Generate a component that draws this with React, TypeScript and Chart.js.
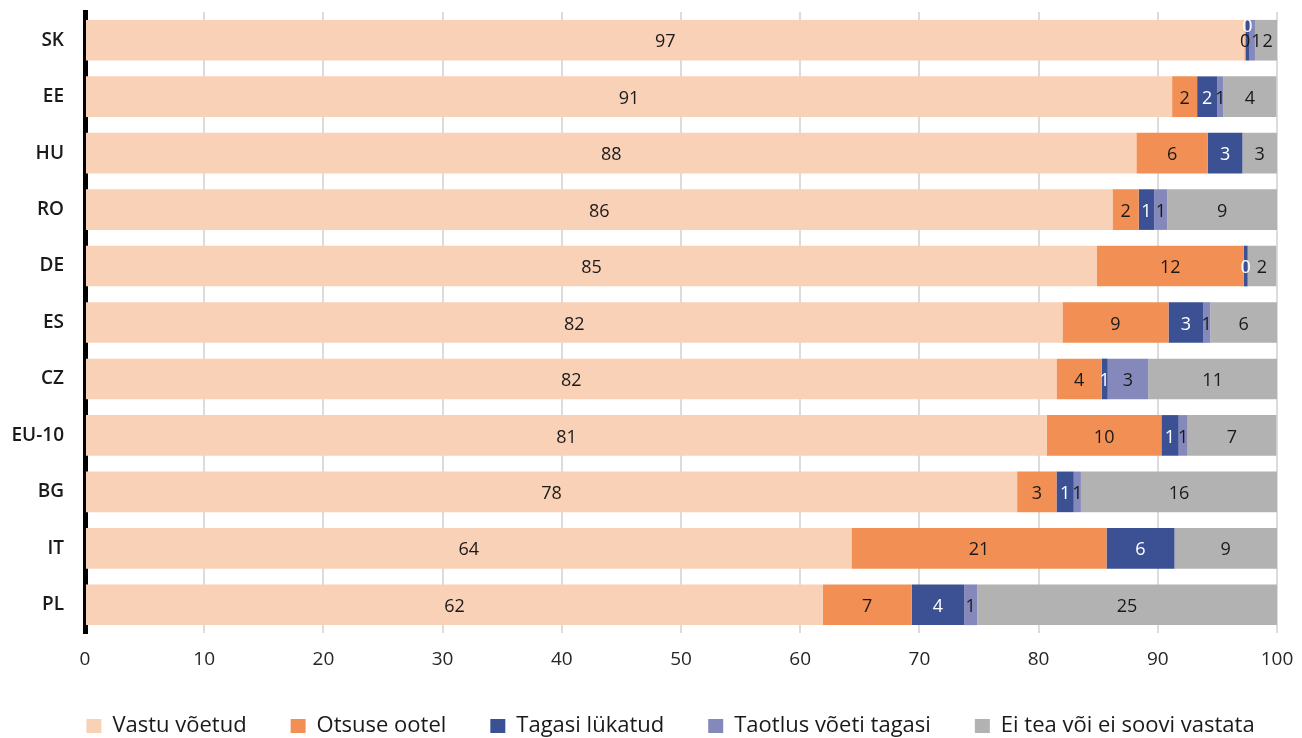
import React, { useEffect, useRef } from "react";
import { Chart, registerables } from "chart.js";

Chart.register(...registerables);

const categories = ["SK", "EE", "HU", "RO", "DE", "ES", "CZ", "EU-10", "BG", "IT", "PL"];
const seriesNames = [
  "Vastu võetud",
  "Otsuse ootel",
  "Tagasi lükatud",
  "Taotlus võeti tagasi",
  "Ei tea või ei soovi vastata",
];
const vastuVoetud = [97.26, 91.2, 88.2, 86.2, 84.9, 82.0, 81.5, 80.7, 78.2, 64.3, 61.9];
const otsuseOotel = [0.14, 2.1, 6.0, 2.2, 12.3, 8.9, 3.8, 9.6, 3.3, 21.4, 7.45];
const tagasiLykatud = [0.25, 1.7, 2.9, 1.3, 0.34, 2.9, 0.5, 1.45, 1.45, 5.7, 4.4];
const taotlusVoetiTagasi = [0.5, 0.5, null, 1.1, null, 0.6, 3.4, 0.75, 0.6, null, 1.1];
const eiTeaVoiEiSoovi = [1.85, 4.45, 2.9, 9.2, 2.4, 5.6, 10.8, 7.45, 16.45, 8.6, 25.15];
const xTicks = [0, 10, 20, 30, 40, 50, 60, 70, 80, 90, 100];

const seriesValues = [vastuVoetud, otsuseOotel, tagasiLykatud, taotlusVoetiTagasi, eiTeaVoiEiSoovi];
const seriesColors = ["#F9D1B6", "#F18F55", "#3C5194", "#8588BA", "#B2B2B2"];
const labelColors = ["#1a1a1a", "#1a1a1a", "#ffffff", "#1a1a1a", "#1a1a1a"];

const FONT = "'Open Sans', 'Noto Sans', sans-serif";

const segmentLabels = {
  id: "segmentLabels",
  afterDatasetsDraw(chart: any) {
    const ctx = chart.ctx;
    ctx.save();
    ctx.font = `18px ${FONT}`;
    ctx.textAlign = "center";
    ctx.textBaseline = "middle";
    const n = categories.length;
    for (let i = 0; i < n; i++) {
      const placed: { l: number; r: number; row: number }[] = [];
      chart.data.datasets.forEach((ds: any, di: number) => {
        const v = ds.data[i];
        if (v === null || v === undefined) return;
        const meta = chart.getDatasetMeta(di);
        const el = meta.data[i];
        if (!el) return;
        const p = el.getProps(["x", "y", "base", "height"], true);
        const text = String(Math.round(v));
        const w = ctx.measureText(text).width;
        const segW = Math.abs(p.x - p.base);
        let cx = (p.x + p.base) / 2;
        let row = 0;
        const overlaps = (c: number, rw: number) =>
          placed.some((q) => q.row === rw && c - w / 2 < q.r - 0.5 && c + w / 2 > q.l + 0.5);
        if (overlaps(cx, 0)) {
          if (segW < w && !overlaps(cx, -1)) {
            row = -1;
          } else {
            const maxR = Math.max(...placed.filter((q) => q.row === 0).map((q) => q.r));
            cx = maxR + 1 + w / 2;
          }
        }
        placed.push({ l: cx - w / 2, r: cx + w / 2, row });
        ctx.fillStyle = labelColors[di];
        ctx.fillText(text, cx, p.y + 2 + row * 15);
      });
    }
    ctx.restore();
  },
};

const legendShift = {
  id: "legendShift",
  afterLayout(chart: any) {
    const lg = chart.legend;
    if (lg) {
      lg.left += 32;
      lg.right += 32;
    }
  },
};

export default function App() {
  const ref = useRef<HTMLCanvasElement | null>(null);
  useEffect(() => {
    document.body.style.margin = "0";
    document.body.style.overflow = "hidden";
    const canvas = ref.current;
    if (!canvas) return;
    const chart = new Chart(canvas, {
      type: "bar",
      data: {
        labels: categories,
        datasets: seriesNames.map((name, i) => ({
          label: name,
          data: seriesValues[i],
          backgroundColor: seriesColors[i],
          borderWidth: 0,
          categoryPercentage: 1,
          barPercentage: 0.72,
        })),
      },
      options: {
        indexAxis: "y",
        responsive: false,
        animation: false,
        layout: { padding: { top: 12, right: 25, bottom: 0, left: 0 } },
        font: { family: FONT },
        scales: {
          x: {
            stacked: true,
            min: 0,
            max: 100,
            afterBuildTicks: (scale: any) => {
              scale.ticks = xTicks.map((v) => ({ value: v }));
            },
            afterFit: (scale: any) => {
              scale.paddingLeft = 0;
              scale.paddingRight = 0;
              scale.height = 38;
            },
            grid: { color: "#dcdcdc", lineWidth: 2, drawTicks: false },
            border: { display: false },
            ticks: {
              padding: 15,
              color: "#262626",
              font: { family: FONT, size: 19 },
            },
          },
          y: {
            stacked: true,
            z: 1,
            afterFit: (scale: any) => {
              scale.width = 85;
              scale.paddingTop = 0;
              scale.paddingBottom = 0;
            },
            grid: { display: false, drawTicks: false },
            border: { display: true, color: "#000000", width: 5 },
            ticks: {
              padding: 21,
              color: "#1a1a1a",
              font: { family: FONT, size: 19, weight: "600" },
            },
          },
        },
        plugins: {
          tooltip: { enabled: false },
          legend: {
            position: "bottom",
            labels: {
              boxWidth: 15,
              boxHeight: 14,
              padding: 44,
              color: "#1a1a1a",
              font: { family: FONT, size: 22 },
            },
          },
        },
      },
      plugins: [segmentLabels, legendShift],
    } as any);
    return () => chart.destroy();
  }, []);
  return (
    <div style={{ width: 1302, height: 747 }}>
      <canvas ref={ref} width={1302} height={747} style={{ display: "block" }} />
    </div>
  );
}
